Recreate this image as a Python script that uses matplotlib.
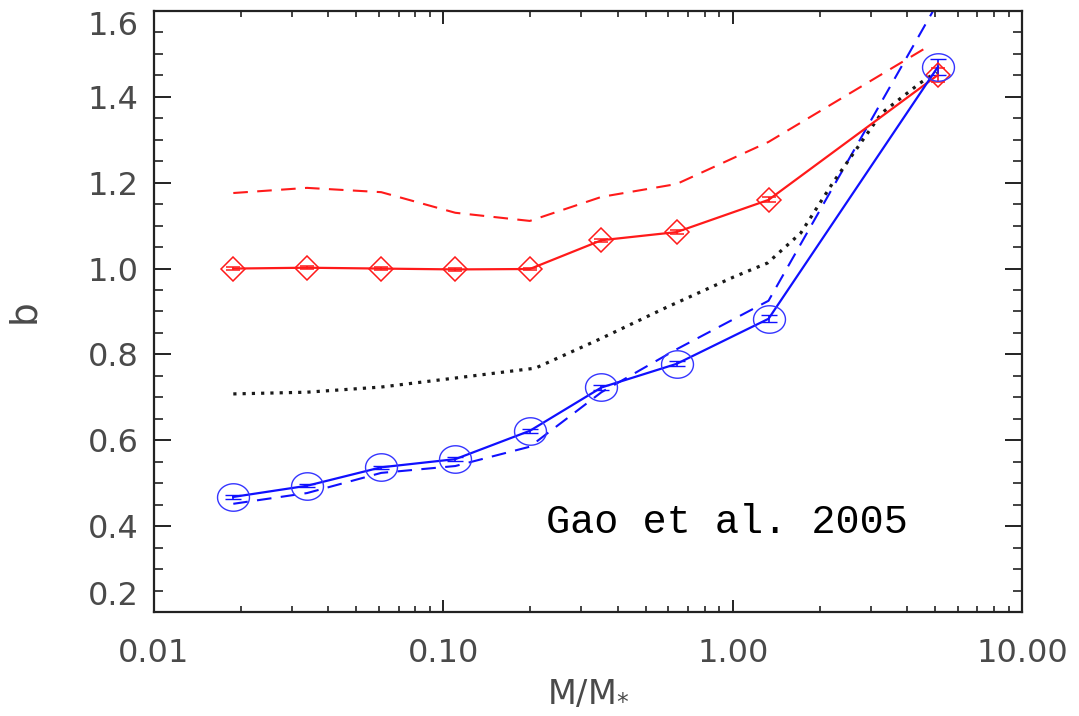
import numpy as np
import matplotlib
matplotlib.use("Agg")
import matplotlib.pyplot as plt
from matplotlib.path import Path
from matplotlib.ticker import FixedLocator, LogLocator, MultipleLocator, NullFormatter

# Halo mass bins (in units of M_*)
mass = [0.0188, 0.0338, 0.0610, 0.110, 0.199, 0.352, 0.640, 1.33, 5.12]

# Measured bias, with errors
bias_red = [1.000, 1.002, 1.000, 0.998, 0.999, 1.066, 1.085, 1.160, 1.451]
err_red = [0.003, 0.003, 0.003, 0.003, 0.003, 0.004, 0.005, 0.006, 0.016]
bias_blue = [0.468, 0.494, 0.537, 0.556, 0.622, 0.723, 0.778, 0.883, 1.470]
err_blue = [0.004, 0.004, 0.004, 0.004, 0.005, 0.005, 0.006, 0.008, 0.018]

# Model curves
mass_red_model = [0.0188, 0.0338, 0.0610, 0.110, 0.199, 0.352, 0.640, 1.33, 4.70]
bias_red_model = [1.176, 1.188, 1.178, 1.130, 1.111, 1.167, 1.197, 1.295, 1.516]
bias_blue_model = [0.452, 0.477, 0.524, 0.540, 0.585, 0.712, 0.812, 0.925, 1.620]
mass_mean = [0.0188, 0.0338, 0.0610, 0.110, 0.208, 0.348, 0.592, 1.005, 1.32,
             1.72, 2.22, 3.27, 4.44, 5.06]
bias_mean = [0.708, 0.712, 0.724, 0.745, 0.768, 0.836, 0.910, 0.980, 1.013,
             1.083, 1.200, 1.362, 1.432, 1.458]

x_ticks = [0.01, 0.1, 1.0, 10.0]
x_ticklabels = ["0.01", "0.10", "1.00", "10.00"]
y_ticks = [0.2, 0.4, 0.6, 0.8, 1.0, 1.2, 1.4, 1.6]

RED = "#ff1a1a"
BLUE = "#1010ff"

fig = plt.figure(figsize=(10.79, 7.16), dpi=100)
ax = fig.add_axes([0.1427, 0.1453, 0.8045, 0.8393])

# slightly flattened circle marker
t = np.linspace(0, 2 * np.pi, 60)
ellipse = Path(np.column_stack([np.cos(t), 0.86 * np.sin(t)]), closed=True)

ax.plot(mass_red_model, bias_red_model, color=RED, lw=1.5,
        dashes=(7, 4.5), zorder=2)
ax.plot(mass, bias_blue_model, color=BLUE, lw=1.5, dashes=(7, 4.5), zorder=2)
ax.plot(mass_mean, bias_mean, color="#1a1a1a", lw=2.3,
        dashes=(1, 1.9), zorder=2)

ax.errorbar(mass, bias_red, yerr=err_red, color=RED, lw=1.6, capsize=5,
            capthick=1.2, elinewidth=1.2, marker="D", ms=12.5, mfc="none",
            mec=RED, mew=1.1, zorder=3)
ax.errorbar(mass, bias_blue, yerr=err_blue, color=BLUE, lw=1.6, capsize=6,
            capthick=1.2, elinewidth=1.2, marker=ellipse, ms=23, mfc="none",
            mec="#3535ff", mew=1.0, zorder=3)

ax.set_xscale("log")
ax.set_xlim(0.01, 10.0)
ax.set_ylim(0.2, 1.6)

ax.xaxis.set_major_locator(FixedLocator(x_ticks))
ax.set_xticklabels(x_ticklabels)
ax.xaxis.set_minor_locator(LogLocator(base=10, subs=np.arange(2, 10)))
ax.xaxis.set_minor_formatter(NullFormatter())
ax.yaxis.set_major_locator(FixedLocator(y_ticks))
ylabels = ax.set_yticklabels([f"{v:.1f}" for v in y_ticks])
ax.yaxis.set_minor_locator(MultipleLocator(0.05))

# keep the end labels inside the axis range
ylabels[0].set_va("bottom")
ylabels[-1].set_va("top")

label_color = "#4a4a4a"
ax.tick_params(axis="both", which="both", direction="in", top=True,
               right=True, color="#222222", labelcolor=label_color,
               labelsize=23)
ax.tick_params(axis="x", which="major", length=9, width=1.4, pad=19)
ax.tick_params(axis="x", which="minor", length=4.5, width=1.2)
ax.tick_params(axis="y", which="major", length=12.5, width=1.4, pad=11)
ax.tick_params(axis="y", which="minor", length=6.5, width=1.2)

for s in ax.spines.values():
    s.set_linewidth(1.6)
    s.set_color("#222222")

ax.set_xlabel(r"M/M$_{*}$", fontsize=24, color=label_color, labelpad=5)
ax.set_ylabel("b", fontsize=27, color=label_color, labelpad=33)

ax.text(0.4516, 0.131, "Gao et al. 2005", transform=ax.transAxes,
        ha="left", va="baseline", fontsize=29, family="Liberation Mono",
        color="black")

fig.savefig("out.png", dpi=100)
